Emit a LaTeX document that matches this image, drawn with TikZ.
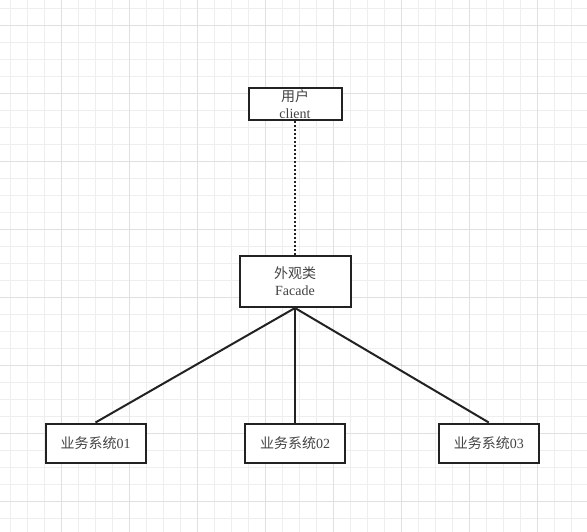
\documentclass[tikz,border=0pt]{standalone}
\usepackage{fontspec}
\setmainfont{Liberation Serif}
\newfontfamily\cjk{Noto Sans CJK SC}
\definecolor{gridminor}{HTML}{EEEEEE}
\definecolor{gridmajor}{HTML}{E0E0E0}
\definecolor{ink}{HTML}{222222}
\begin{document}
\begin{tikzpicture}[
			x = 1pt, y = -1pt,
			every node/.style = {font = \fontsize{14}{17}\selectfont, text = ink!85},
			box/.style = {draw = ink, line width = 2pt, fill = white, align = center, inner sep = 0pt},
			link/.style = {draw = ink, line width = 2pt}
			]

			\useasboundingbox[fill = white] (0,0) rectangle (587,532);

			% background grid
			\foreach \k in {0,...,33} \draw[gridminor, line width = 1pt] ({10+17*\k},0) -- ({10+17*\k},532);
			\foreach \k in {0,...,31} \draw[gridminor, line width = 1pt] (0,{8.3+17*\k}) -- (587,{8.3+17*\k});
			\foreach \k in {0,...,7} \draw[gridmajor, line width = 1pt] ({61+68*\k},0) -- ({61+68*\k},532);
			\foreach \k in {0,...,7} \draw[gridmajor, line width = 1pt] (0,{25.3+68*\k}) -- (587,{25.3+68*\k});

			\node[box, minimum width = 93pt, minimum height = 32pt] (client) at (295,104) {{\cjk 用户}\\client};
			\node[box, minimum width = 111pt, minimum height = 51pt] (facade) at (295,281.5) {{\cjk 外观类}\\Facade};

			\node[box, minimum width = 100pt, minimum height = 39pt] (sys1) at (95.5,443) {{\cjk 业务系统}01};
			\node[box, minimum width = 100pt, minimum height = 39pt] (sys2) at (295,443) {{\cjk 业务系统}02};
			\node[box, minimum width = 100pt, minimum height = 39pt] (sys3) at (488.8,443) {{\cjk 业务系统}03};

			\draw[link, dash pattern = on 2pt off 2pt] (client) -- (facade);
			\draw[link] (facade.south) -- (sys1.north);
			\draw[link] (facade.south) -- (sys2.north);
			\draw[link] (facade.south) -- (sys3.north);

		\end{tikzpicture}
\end{document}
